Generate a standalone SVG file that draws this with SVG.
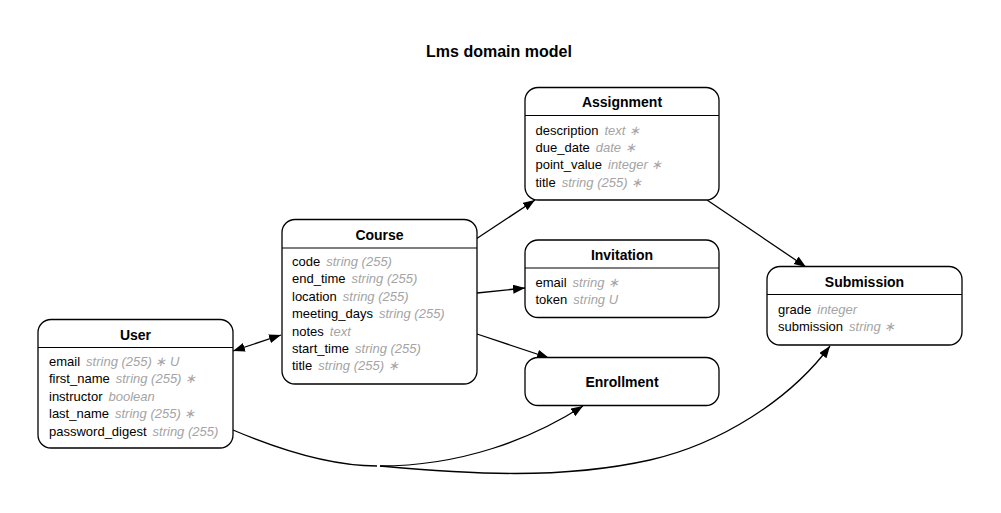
<svg xmlns="http://www.w3.org/2000/svg" width="1001" height="513" viewBox="0 0 1001 513">
<style>
.box{fill:#fff;stroke:#000;stroke-width:1.3}
.sep{stroke:#000;stroke-width:1.2}
.title{font-family:"Liberation Sans",Arial,sans-serif;font-weight:bold;font-size:14px;fill:#000;text-anchor:middle}
.attr{font-family:"Liberation Sans",Arial,sans-serif;font-size:13px;fill:#000}
.t{font-style:italic;fill:#a4a4a4}
.edge{fill:none;stroke:#000;stroke-width:1.3}
</style>
<defs>
<marker id="arr" markerUnits="userSpaceOnUse" markerWidth="13" markerHeight="10" refX="12" refY="4.5" orient="auto-start-reverse" viewBox="0 0 13 10">
<path d="M0,0 L12,4.5 L0,9 z" fill="#000"/>
</marker>
</defs>
<rect width="1001" height="513" fill="#fff"/>
<text x="499" y="56.5" style="font-family:'Liberation Sans',Arial,sans-serif;font-weight:bold;font-size:16px" text-anchor="middle">Lms domain model</text>
<g id="connectors">
<path class="edge" d="M233,351 L281,335" marker-start="url(#arr)" marker-end="url(#arr)"/>
<path class="edge" d="M476,239 L535,200" marker-end="url(#arr)"/>
<path class="edge" d="M477,293 L525,288" marker-end="url(#arr)"/>
<path class="edge" d="M477,334 L549,358" marker-end="url(#arr)"/>
<path class="edge" d="M707,200 L806,267" marker-end="url(#arr)"/>
<path class="edge" d="M233,430 C280,450 330,466 377,466"/>
<path class="edge" d="M380,466 C460,466 530,440 583,406" marker-end="url(#arr)"/>
<path class="edge" d="M380,466 C470,474 560,480 650,460 C720,444 790,400 830,346" marker-end="url(#arr)"/>
</g>
<g id="User">
<rect class="box" x="38" y="319.5" width="195" height="128.5" rx="13"/>
<line class="sep" x1="38" y1="347.5" x2="233" y2="347.5"/>
<text class="title" x="135.5" y="340">User</text>
<text class="attr" x="49" y="366">email<tspan class="t" dx="6">string (255) ∗ U</tspan></text>
<text class="attr" x="49" y="383.4">first_name<tspan class="t" dx="6">string (255) ∗</tspan></text>
<text class="attr" x="49" y="400.8">instructor<tspan class="t" dx="6">boolean</tspan></text>
<text class="attr" x="49" y="418.2">last_name<tspan class="t" dx="6">string (255) ∗</tspan></text>
<text class="attr" x="49" y="435.6">password_digest<tspan class="t" dx="6">string (255)</tspan></text>
</g>
<g id="Course">
<rect class="box" x="282" y="219.5" width="195" height="164.5" rx="13"/>
<line class="sep" x1="282" y1="248" x2="477" y2="248"/>
<text class="title" x="379.5" y="239.5">Course</text>
<text class="attr" x="292" y="266">code<tspan class="t" dx="6">string (255)</tspan></text>
<text class="attr" x="292" y="283.4">end_time<tspan class="t" dx="6">string (255)</tspan></text>
<text class="attr" x="292" y="300.8">location<tspan class="t" dx="6">string (255)</tspan></text>
<text class="attr" x="292" y="318.2">meeting_days<tspan class="t" dx="6">string (255)</tspan></text>
<text class="attr" x="292" y="335.6">notes<tspan class="t" dx="6">text</tspan></text>
<text class="attr" x="292" y="353">start_time<tspan class="t" dx="6">string (255)</tspan></text>
<text class="attr" x="292" y="370.4">title<tspan class="t" dx="6">string (255) ∗</tspan></text>
</g>
<g id="Assignment">
<rect class="box" x="525" y="87.5" width="194" height="112.5" rx="13"/>
<line class="sep" x1="525" y1="115.5" x2="719" y2="115.5"/>
<text class="title" x="622" y="107">Assignment</text>
<text class="attr" x="535.5" y="134.5">description<tspan class="t" dx="6">text ∗</tspan></text>
<text class="attr" x="535.5" y="152">due_date<tspan class="t" dx="6">date ∗</tspan></text>
<text class="attr" x="535.5" y="169.4">point_value<tspan class="t" dx="6">integer ∗</tspan></text>
<text class="attr" x="535.5" y="186.8">title<tspan class="t" dx="6">string (255) ∗</tspan></text>
</g>
<g id="Invitation">
<rect class="box" x="525" y="240" width="194" height="77.5" rx="13"/>
<line class="sep" x1="525" y1="268" x2="719" y2="268"/>
<text class="title" x="622" y="260">Invitation</text>
<text class="attr" x="535.5" y="286.5">email<tspan class="t" dx="6">string ∗</tspan></text>
<text class="attr" x="535.5" y="304">token<tspan class="t" dx="6">string U</tspan></text>
</g>
<g id="Enrollment">
<rect class="box" x="525" y="357.5" width="194" height="48" rx="13"/>
<text class="title" x="622" y="386.5">Enrollment</text>
</g>
<g id="Submission">
<rect class="box" x="767" y="266.5" width="195" height="78.5" rx="13"/>
<line class="sep" x1="767" y1="294.5" x2="962" y2="294.5"/>
<text class="title" x="864.5" y="287">Submission</text>
<text class="attr" x="778" y="313.5">grade<tspan class="t" dx="6">integer</tspan></text>
<text class="attr" x="778" y="331">submission<tspan class="t" dx="6">string ∗</tspan></text>
</g>
</svg>
